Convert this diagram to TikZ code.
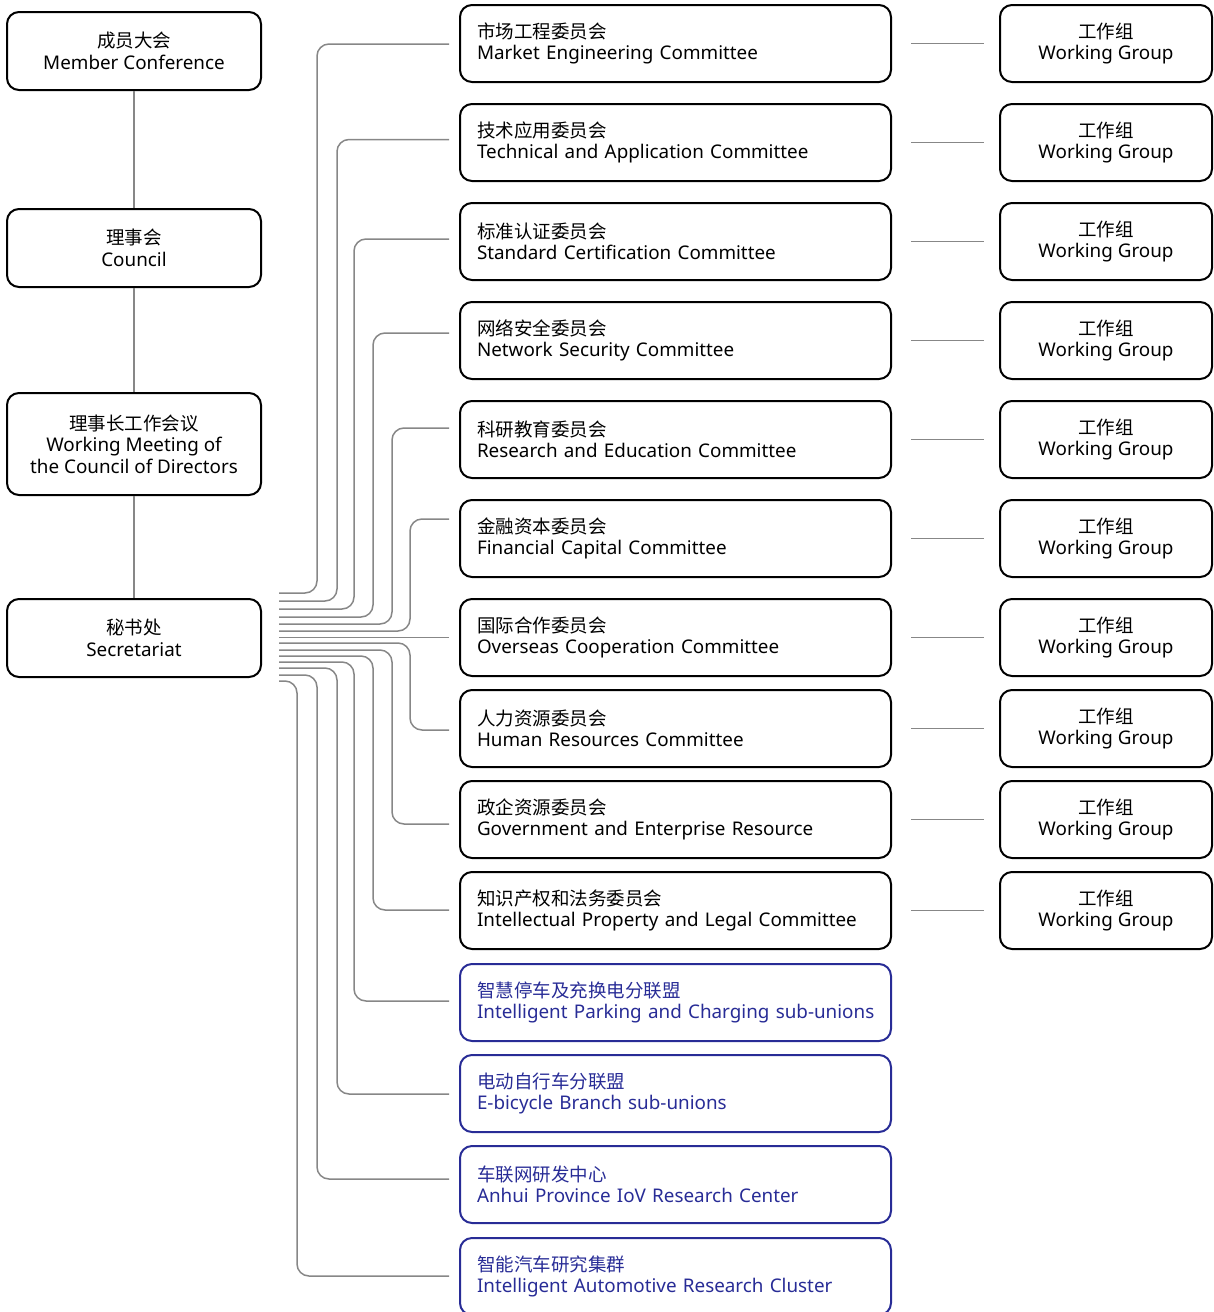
\documentclass[tikz,border=0pt]{standalone}
\usepackage{fontspec}
\setmainfont{Noto Sans}[Scale=1.018]
\newfontfamily\cjk{Noto Sans CJK SC}
\usepackage{tikz}
\usetikzlibrary{calc}
\definecolor{linkgray}{RGB}{135,135,135}
\definecolor{navy}{RGB}{40,44,150}
\newcommand{\boxfont}{\fontsize{18.5pt}{21.5pt}\selectfont}

\tikzset{
    unit/.style={draw=black, line width=2pt, rounded corners=12pt, minimum width=254pt, minimum height=78pt, inner sep=0pt, align=center, font=\boxfont},
    cmte/.style={draw=black, line width=2pt, rounded corners=12pt, text width=397pt, inner xsep=17pt, inner ysep=0pt, minimum height=77pt, align=left, font=\boxfont},
    branch/.style={cmte, draw=navy, text=navy},
    wgroup/.style={draw=black, line width=2pt, rounded corners=12pt, minimum width=212pt, minimum height=77pt, inner sep=0pt, align=center, font=\boxfont},
    link/.style={draw=linkgray, line width=1.5pt, rounded corners=12pt},
}

\begin{document}
\begin{tikzpicture}[x=1pt,y=-1pt]
        \useasboundingbox (0,0) rectangle (1213,1312);

        % Left column
        \node[unit] (mc) at (134, 51) {{\cjk 成员大会}\\Member Conference};
        \node[unit] (cn) at (134, 248) {{\cjk 理事会}\\Council};
        \node[unit, minimum height=102pt] (wm) at (134, 444) {{\cjk 理事长工作会议}\\Working Meeting of\\the Council of Directors};
        \node[unit] (sec) at (134, 638) {{\cjk 秘书处}\\Secretariat};

        \draw[link] (mc) -- (cn);
        \draw[link] (cn) -- (wm);
        \draw[link] (wm) -- (sec);

        % Committees
        \node[cmte] (m1) at (675.5, 43.5) {{\cjk 市场工程委员会}\\Market Engineering Committee};
        \node[cmte] (m2) at (675.5, 142.5) {{\cjk 技术应用委员会}\\Technical and Application Committee};
        \node[cmte] (m3) at (675.5, 241.5) {{\cjk 标准认证委员会}\\Standard Certification Committee};
        \node[cmte] (m4) at (675.5, 340.5) {{\cjk 网络安全委员会}\\Network Security Committee};
        \node[cmte] (m5) at (675.5, 439.5) {{\cjk 科研教育委员会}\\Research and Education Committee};
        \node[cmte] (m6) at (675.5, 538.5) {{\cjk 金融资本委员会}\\Financial Capital Committee};
        \node[cmte] (m7) at (675.5, 637.5) {{\cjk 国际合作委员会}\\Overseas Cooperation Committee};
        \node[cmte] (m8) at (675.5, 728.5) {{\cjk 人力资源委员会}\\Human Resources Committee};
        \node[cmte] (m9) at (675.5, 819.5) {{\cjk 政企资源委员会}\\Government and Enterprise Resource};
        \node[cmte] (m10) at (675.5, 910.5) {{\cjk 知识产权和法务委员会}\\Intellectual Property and Legal Committee};

        % Sub-unions and centres
        \node[branch] (m11) at (675.5, 1002.5) {{\cjk 智慧停车及充换电分联盟}\\\mbox{Intelligent Parking and Charging sub-unions}};
        \node[branch] (m12) at (675.5, 1093.5) {{\cjk 电动自行车分联盟}\\E-bicycle Branch sub-unions};
        \node[branch] (m13) at (675.5, 1184.5) {{\cjk 车联网研发中心}\\Anhui Province IoV Research Center};
        \node[branch] (m14) at (675.5, 1276.5) {{\cjk 智能汽车研究集群}\\Intelligent Automotive Research Cluster};

        % Working groups
        \foreach \i/\y in {1/43.5, 2/142.5, 3/241.5, 4/340.5, 5/439.5, 6/538.5, 7/637.5, 8/728.5, 9/819.5, 10/910.5} {
            \node[wgroup] (w\i) at (1106, \y) {{\cjk 工作组}\\Working Group};
            \draw[link, shorten <=19pt, shorten >=15pt] (m\i) -- (w\i);
        }

        % Secretariat to committees
        \draw[link, shorten <=17pt, shorten >=10pt] (sec.east |- m7.west) -- (m7.west);
        \foreach \to/\ys/\xv/\ye in {m1/593/317/44, m2/601/337/139.5, m3/609/354/239, m4/617/373/333, m5/624/392/428, m6/631/410/519,
                                     m8/643/410/730, m9/650/392/824, m10/656/373/910, m11/662/354/1001, m12/668/337/1094, m13/675/317/1179, m14/681/297/1276}
            \draw[link, shorten >=10pt] ($(sec.east |- 0,\ys)+(17,0)$) -| (\xv,\ye) -- (\to.west |- 0,\ye);
\end{tikzpicture}
\end{document}
